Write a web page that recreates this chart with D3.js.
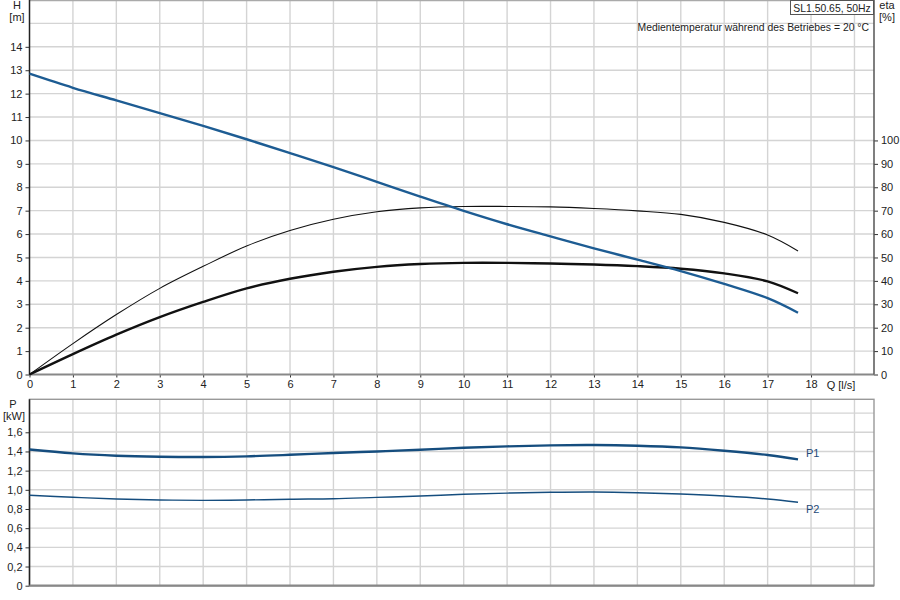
<!DOCTYPE html>
<html>
<head>
<meta charset="utf-8">
<script src="https://cdn.jsdelivr.net/npm/d3@7"></script>
<style>
  body { margin: 0; background: #fff; }
  svg { font-family: "Liberation Sans", Arial, sans-serif; font-size: 11px; }
  .tick text { fill: #222; font-size: 11px; }
  .tick line { stroke: #333; }
  .grid line { stroke: #d4d4d4; stroke-width: 1.4; }
</style>
</head>
<body>
<svg id="chart" width="900" height="600"></svg>
<script>
// flow points [l/s]
var flow = [0, 1, 2, 3, 4, 5, 6, 7, 8, 9, 10, 11, 12, 13, 14, 15, 16, 17, 17.7];
// head [m]
var head = [12.85, 12.25, 11.71, 11.17, 10.62, 10.05, 9.46, 8.86, 8.23, 7.6, 6.99, 6.42, 5.9, 5.39, 4.91, 4.42, 3.87, 3.26, 2.64];
// efficiency [%], thin and thick curve
var etaPump = [0, 13.2, 25.6, 36.8, 46.2, 54.9, 61.5, 66.3, 69.5, 71.2, 71.8, 71.8, 71.6, 70.9, 69.9, 68.4, 65.0, 59.6, 52.8];
var etaTotal = [0, 8.7, 17, 24.5, 31, 36.8, 40.9, 43.9, 46, 47.2, 47.7, 47.7, 47.4, 47, 46.3, 45.2, 43.2, 39.8, 34.7];
// power [kW]
var p1 = [1.42, 1.38, 1.356, 1.345, 1.342, 1.349, 1.365, 1.384, 1.40, 1.418, 1.439, 1.453, 1.464, 1.467, 1.46, 1.443, 1.408, 1.363, 1.318];
var p2 = [0.943, 0.922, 0.904, 0.894, 0.890, 0.894, 0.902, 0.907, 0.921, 0.935, 0.953, 0.966, 0.974, 0.977, 0.97, 0.956, 0.935, 0.904, 0.87];

var qTicks = d3.range(0, 19);
var hTicks = d3.range(0, 15);
var etaTicks = d3.range(0, 101, 10);
var pTicks = [0, 0.2, 0.4, 0.6, 0.8, 1.0, 1.2, 1.4, 1.6];

var svg = d3.select("#chart");

var x = d3.scaleLinear().domain([0, 19.45]).range([29.5, 874]);
var yH = d3.scaleLinear().domain([0, 16]).range([374.5, 0]);
var yEta = d3.scaleLinear().domain([0, 160]).range([374.5, 0]);
var yP = d3.scaleLinear().domain([0, 1.944]).range([585.7, 399.3]);

var comma = function(d) { return d === 0 ? "0" : d3.format(".1f")(d).replace(".", ","); };

// ---------- grids ----------
var gridTop = svg.append("g").attr("class", "grid");
gridTop.selectAll(".v").data(d3.range(1, 20)).enter().append("line")
  .attr("x1", function(d) { return x(d); }).attr("x2", function(d) { return x(d); })
  .attr("y1", yH(16)).attr("y2", yH(0));
gridTop.selectAll(".h").data(d3.range(1, 16)).enter().append("line")
  .attr("x1", x(0)).attr("x2", x(19.45))
  .attr("y1", function(d) { return yH(d); }).attr("y2", function(d) { return yH(d); });

var gridBot = svg.append("g").attr("class", "grid");
gridBot.selectAll(".v").data(d3.range(1, 20)).enter().append("line")
  .attr("x1", function(d) { return x(d); }).attr("x2", function(d) { return x(d); })
  .attr("y1", yP(1.944)).attr("y2", yP(0));
gridBot.selectAll(".h").data([0.2, 0.4, 0.6, 0.8, 1.0, 1.2, 1.4, 1.6, 1.8]).enter().append("line")
  .attr("x1", x(0)).attr("x2", x(19.45))
  .attr("y1", function(d) { return yP(d); }).attr("y2", function(d) { return yP(d); });

// ---------- frames ----------
svg.append("line").attr("x1", x(0)).attr("x2", x(19.45)).attr("y1", 0.5).attr("y2", 0.5)
  .attr("stroke", "#aaa").attr("stroke-width", 1.4);
svg.append("rect").attr("x", x(0)).attr("y", yP(1.944)).attr("width", x(19.45) - x(0))
  .attr("height", yP(0) - yP(1.944)).attr("fill", "none").attr("stroke", "#999").attr("stroke-width", 1.4);

// ---------- axes top ----------
var axL = svg.append("g").attr("transform", "translate(" + x(0) + ",0)")
  .call(d3.axisLeft(yH).tickValues(hTicks).tickSize(4).tickPadding(3));
axL.select(".domain").remove();

var axR = svg.append("g").attr("transform", "translate(" + x(19.45) + ",0)")
  .call(d3.axisRight(yEta).tickValues(etaTicks).tickSize(4).tickPadding(3));
axR.select(".domain").remove();

var axB = svg.append("g").attr("transform", "translate(0," + yH(0) + ")")
  .call(d3.axisBottom(x).tickValues(qTicks).tickSize(3).tickPadding(3));
axB.select(".domain").remove();
axB.selectAll(".tick line").attr("stroke", "#888");

svg.append("line").attr("x1", x(0)).attr("x2", x(19.45)).attr("y1", yH(0)).attr("y2", yH(0))
  .attr("stroke", "#888").attr("stroke-width", 2.2);
svg.append("line").attr("x1", x(0)).attr("x2", x(0)).attr("y1", 0).attr("y2", yH(0))
  .attr("stroke", "#222").attr("stroke-width", 1.5);
svg.append("line").attr("x1", x(19.45)).attr("x2", x(19.45)).attr("y1", 0).attr("y2", yH(0))
  .attr("stroke", "#555").attr("stroke-width", 1.5);

// ---------- axes bottom ----------
var axP = svg.append("g").attr("transform", "translate(" + x(0) + ",0)")
  .call(d3.axisLeft(yP).tickValues(pTicks).tickSize(4).tickPadding(3).tickFormat(comma));
axP.select(".domain").remove();
svg.append("line").attr("x1", x(0)).attr("x2", x(0)).attr("y1", yP(1.944)).attr("y2", yP(0))
  .attr("stroke", "#222").attr("stroke-width", 1.5);
svg.append("line").attr("x1", x(0)).attr("x2", x(19.45)).attr("y1", yP(0)).attr("y2", yP(0))
  .attr("stroke", "#888").attr("stroke-width", 2.2);

// ---------- axis titles ----------
function label(txt, px, py, anchor, size) {
  svg.append("text").attr("x", px).attr("y", py).attr("text-anchor", anchor || "middle")
    .attr("fill", "#222").style("font-size", (size || 11) + "px").text(txt);
}
label("H", 17, 9);
label("[m]", 17, 21);
label("eta", 887, 9);
label("[%]", 887, 21);
label("Q [l/s]", 841, 389);
label("P", 13, 408);
label("[kW]", 14, 420);

// ---------- info box ----------
svg.append("rect").attr("x", 790.5).attr("y", 0.5).attr("width", 83).attr("height", 14)
  .attr("fill", "#fff").attr("stroke", "#555").attr("stroke-width", 1);
label("SL1.50.65, 50Hz", 832, 11.5, "middle", 10.4);
label("Medientemperatur während des Betriebes = 20 °C", 869, 31, "end", 10.4);

// ---------- curves ----------
var smooth = d3.curveCatmullRom.alpha(0.5);
var lineH = d3.line().curve(smooth)
  .x(function(d, i) { return x(flow[i]); }).y(function(d) { return yH(d); });
var lineEta = d3.line().curve(smooth)
  .x(function(d, i) { return x(flow[i]); }).y(function(d) { return yEta(d); });
var lineP = d3.line().curve(smooth)
  .x(function(d, i) { return x(flow[i]); }).y(function(d) { return yP(d); });

svg.append("path").datum(etaPump).attr("d", lineEta)
  .attr("fill", "none").attr("stroke", "#111").attr("stroke-width", 1.1);
svg.append("path").datum(etaTotal).attr("d", lineEta)
  .attr("fill", "none").attr("stroke", "#111").attr("stroke-width", 2.4);
svg.append("path").datum(head).attr("d", lineH)
  .attr("fill", "none").attr("stroke", "#1d5c93").attr("stroke-width", 2.4);

svg.append("path").datum(p1).attr("d", lineP)
  .attr("fill", "none").attr("stroke", "#154d7e").attr("stroke-width", 2.4);
svg.append("path").datum(p2).attr("d", lineP)
  .attr("fill", "none").attr("stroke", "#154d7e").attr("stroke-width", 1.4);

svg.append("text").attr("x", 806).attr("y", 457).attr("fill", "#1f4a78").style("font-size", "11px").text("P1");
svg.append("text").attr("x", 806).attr("y", 513).attr("fill", "#1f4a78").style("font-size", "11px").text("P2");
</script>
</body>
</html>
